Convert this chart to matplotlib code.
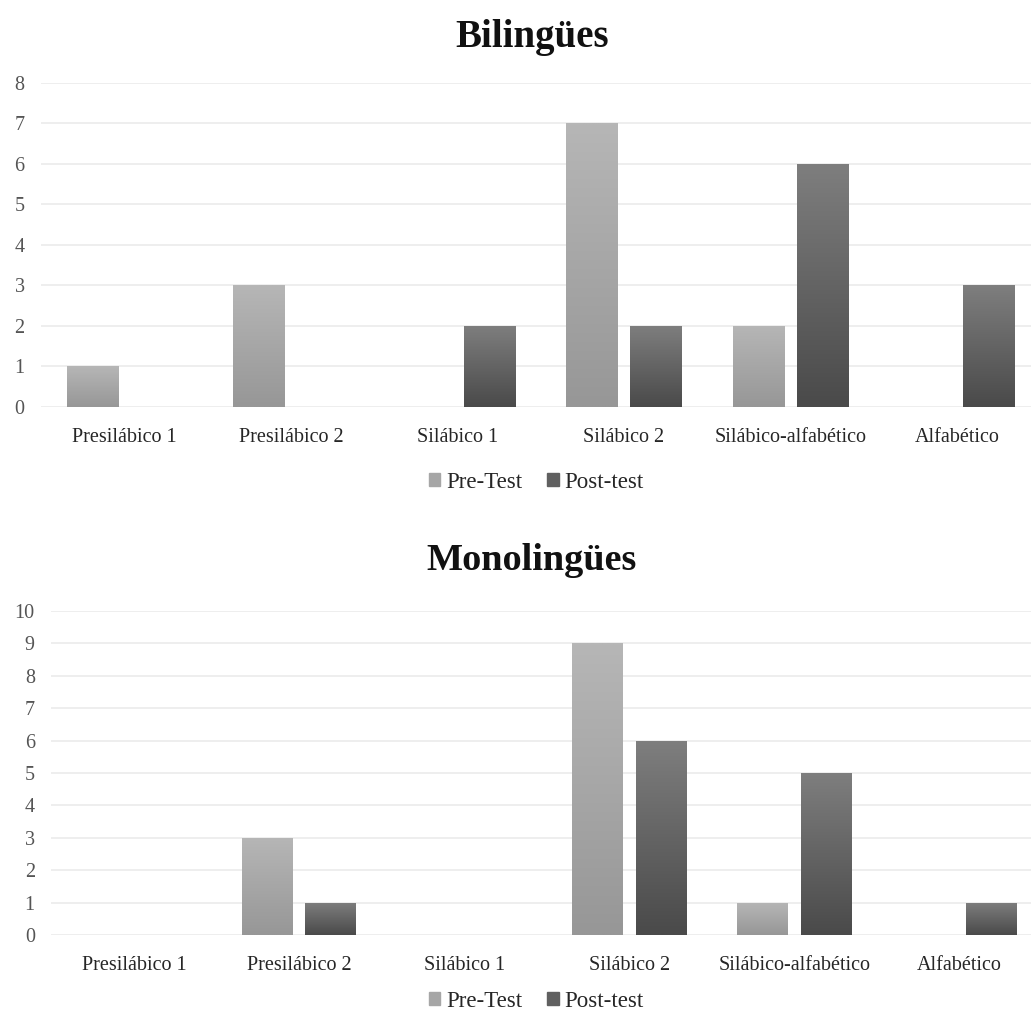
import numpy as np
import matplotlib
matplotlib.use("Agg")
import matplotlib.pyplot as plt
from matplotlib.patches import Patch

# ===================== DATA =====================
CATEGORIES = ["Presilábico 1", "Presilábico 2", "Silábico 1", "Silábico 2",
              "Silábico-alfabético", "Alfabético"]
SERIES = ["Pre-Test", "Post-test"]

BILINGUES_PRE = [1, 3, 0, 7, 2, 0]
BILINGUES_POST = [0, 0, 2, 2, 6, 3]
MONOLINGUES_PRE = [0, 3, 0, 9, 1, 0]
MONOLINGUES_POST = [0, 1, 0, 6, 5, 1]

# gradient colours (top, bottom) per series
PRE_GRAD = ("#b6b6b6", "#979797")
POST_GRAD = ("#7e7e7e", "#4a4a4a")
# ================================================

plt.rcParams['font.family'] = ['Liberation Serif', 'DejaVu Serif']

BAR_W = 1 / 3.25
OFFSET = 0.625 * BAR_W


def hex_rgb(h):
    h = h.lstrip('#')
    return np.array([int(h[i:i + 2], 16) / 255 for i in (0, 2, 4)])


def gradient_bars(ax, bars, grad):
    top, bottom = hex_rgb(grad[0]), hex_rgb(grad[1])
    t = np.linspace(0, 1, 64)[:, None]
    img = (top * (1 - t) + bottom * t)[:, None, :]
    for b in bars:
        h = b.get_height()
        if h <= 0:
            continue
        x0 = b.get_x()
        im = ax.imshow(img, extent=(x0, x0 + b.get_width(), 0, h),
                       origin='upper', aspect='auto', zorder=3,
                       interpolation='bilinear')
        im.set_clip_path(b)


def draw_panel(fig, rect, title, title_y, title_size, pre, post, ymax, legend_y):
    ax = fig.add_axes(rect)
    x = np.arange(len(CATEGORIES))
    b1 = ax.bar(x - OFFSET, pre, BAR_W, color=PRE_GRAD[1], zorder=2,
                edgecolor='none')
    b2 = ax.bar(x + OFFSET, post, BAR_W, color=POST_GRAD[1], zorder=2,
                edgecolor='none')
    gradient_bars(ax, b1, PRE_GRAD)
    gradient_bars(ax, b2, POST_GRAD)

    ax.set_xlim(-0.5, len(CATEGORIES) - 0.5)
    ax.set_ylim(0, ymax)
    ax.set_yticks(range(0, ymax + 1))
    ax.set_xticks(x)
    ax.set_xticklabels(CATEGORIES, fontsize=14.5, color='#262626')
    ax.tick_params(axis='x', length=0, pad=15)
    ax.tick_params(axis='y', length=0, pad=12, labelsize=14.5,
                   labelcolor='#555555')
    ax.grid(axis='y', color='#ebebeb', lw=1.2, zorder=0)
    for s in ax.spines.values():
        s.set_visible(False)

    fig.text(0.516, title_y, title, ha='center', va='center',
             fontsize=title_size, fontweight='bold', color='#111111')

    handles = [Patch(color='#a6a6a6'), Patch(color='#606060')]
    fig.legend(handles, SERIES, loc='center', bbox_to_anchor=(0.52, legend_y),
               ncol=2, frameon=False, fontsize=16.5, handlelength=0.5,
               handleheight=0.5, handletextpad=0.25, columnspacing=1.1,
               labelcolor='#262626')
    return ax


def main():
    fig = plt.figure(figsize=(10.31, 10.18), dpi=100)
    fig.patch.set_facecolor('white')

    draw_panel(fig, [0.0401, 0.6002, 0.9687, 0.3183], "Bilingües", 0.963, 28,
               BILINGUES_PRE, BILINGUES_POST, 8, 0.5265)
    draw_panel(fig, [0.0499, 0.0815, 0.9608, 0.3183], "Monolingües", 0.449, 27.5,
               MONOLINGUES_PRE, MONOLINGUES_POST, 10, 0.0165)

    fig.savefig("out.png", dpi=100, facecolor='white')


if __name__ == '__main__':
    main()
